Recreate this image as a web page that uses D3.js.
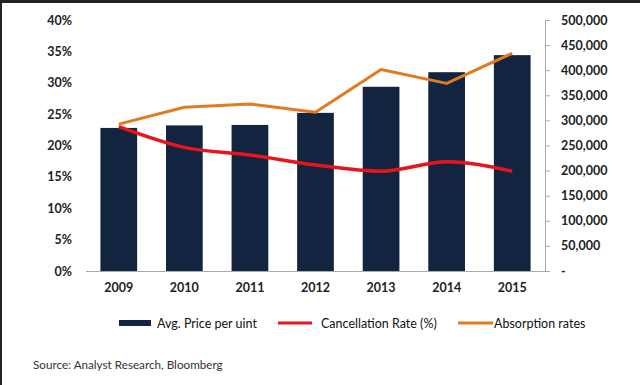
<!DOCTYPE html>
<html><head><meta charset="utf-8">
<script src="https://cdn.jsdelivr.net/npm/d3@7/dist/d3.min.js"></script>
<style>body{margin:0;background:#fff;}svg{display:block;}</style>
</head><body>
<svg id="c" width="640" height="385"></svg>
<script>
const years = ["2009","2010","2011","2012","2013","2014","2015"];
const avgPrice = [285000, 290000, 291000, 315000, 367000, 396000, 430000];
const cancellation = [0.230, 0.197, 0.185, 0.169, 0.159, 0.174, 0.159];
const absorption = [0.234, 0.261, 0.266, 0.253, 0.321, 0.299, 0.347];
const leftTicks = [0,0.05,0.10,0.15,0.20,0.25,0.30,0.35,0.40];
const rightTicks = [0,50000,100000,150000,200000,250000,300000,350000,400000,450000,500000];
const legendLabels = ["Avg. Price per uint","Cancellation Rate (%)","Absorption rates"];
const sourceText = "Source: Analyst Research, Bloomberg";

const svg = d3.select("#c");
const font = "Lato, 'Open Sans', sans-serif";
const navy = "#12243f", red = "#e8141b", orange = "#e07b22";

// frame
svg.append("rect").attr("x",0).attr("y",0).attr("width",640).attr("height",3).attr("fill","#222");
svg.append("rect").attr("x",0).attr("y",0).attr("width",2).attr("height",385).attr("fill","#222");

const x0 = 86, x1 = 545, yTop = 20, yBot = 271;
const x = d3.scaleBand().domain(years).range([x0,x1]).paddingInner(0.44).paddingOuter(0.22);
const yL = d3.scaleLinear().domain([0,0.40]).range([yBot,yTop]);
const yR = d3.scaleLinear().domain([0,500000]).range([yBot,yTop]);

// bars
svg.append("g").selectAll("rect").data(avgPrice).join("rect")
  .attr("x",(d,i)=>x(years[i])).attr("width",x.bandwidth())
  .attr("y",d=>yR(d)).attr("height",d=>yBot-yR(d)).attr("fill",navy);

// x axis line
svg.append("line").attr("x1",x0).attr("x2",x1).attr("y1",yBot+0.5).attr("y2",yBot+0.5)
  .attr("stroke","#aaa").attr("stroke-width",1);

// left axis (labels only)
const gl = svg.append("g").attr("transform",`translate(${x0},0)`)
  .call(d3.axisLeft(yL).tickValues(leftTicks).tickFormat(d3.format(".0%")).tickSize(0).tickPadding(14));
gl.select(".domain").remove();
gl.selectAll("text").attr("font-family",font).attr("font-size",12.5).attr("font-weight","bold").attr("fill","#222");

// right axis
const gr = svg.append("g").attr("transform",`translate(${x1},0)`)
  .call(d3.axisRight(yR).tickValues(rightTicks).tickFormat(d=>d===0?"-":d3.format(",")(d)).tickSize(5).tickPadding(11).tickSizeOuter(0));
gr.select(".domain").attr("stroke","#aaa");
gr.selectAll(".tick line").attr("stroke","#aaa");
gr.selectAll("text").attr("font-family",font).attr("font-size",12.5).attr("font-weight","bold").attr("fill","#222");

// x labels
const gx = svg.append("g").attr("transform",`translate(0,${yBot})`)
  .call(d3.axisBottom(x).tickSize(0).tickPadding(12));
gx.select(".domain").remove();
gx.selectAll("text").attr("font-family",font).attr("font-size",12.5).attr("font-weight","bold").attr("fill","#222");

const cx = d => x(d)+x.bandwidth()/2;
// lines
svg.append("path").datum(absorption)
  .attr("d", d3.line().x((d,i)=>cx(years[i])).y(d=>yL(d)))
  .attr("fill","none").attr("stroke",orange).attr("stroke-width",3).attr("stroke-linejoin","round");
svg.append("path").datum(cancellation)
  .attr("d", d3.line().curve(d3.curveMonotoneX).x((d,i)=>cx(years[i])).y(d=>yL(d)))
  .attr("fill","none").attr("stroke",red).attr("stroke-width",3.5).attr("stroke-linejoin","round");

// legend
const ly = 323;
svg.append("rect").attr("x",119).attr("y",ly-3).attr("width",32).attr("height",6).attr("fill",navy);
svg.append("line").attr("x1",278).attr("x2",312).attr("y1",ly).attr("y2",ly).attr("stroke",red).attr("stroke-width",3);
svg.append("line").attr("x1",458).attr("x2",493).attr("y1",ly).attr("y2",ly).attr("stroke",orange).attr("stroke-width",3);
const lx = [157, 321, 494];
legendLabels.forEach((t,i)=>{
  svg.append("text").attr("x",lx[i]).attr("y",ly+4.5).text(t)
    .attr("font-family",font).attr("font-size",12.5).attr("fill","#111");
});

svg.append("text").attr("x",33).attr("y",369).text(sourceText)
  .attr("font-family",font).attr("font-size",11.7).attr("fill","#333");
</script>
</body></html>
